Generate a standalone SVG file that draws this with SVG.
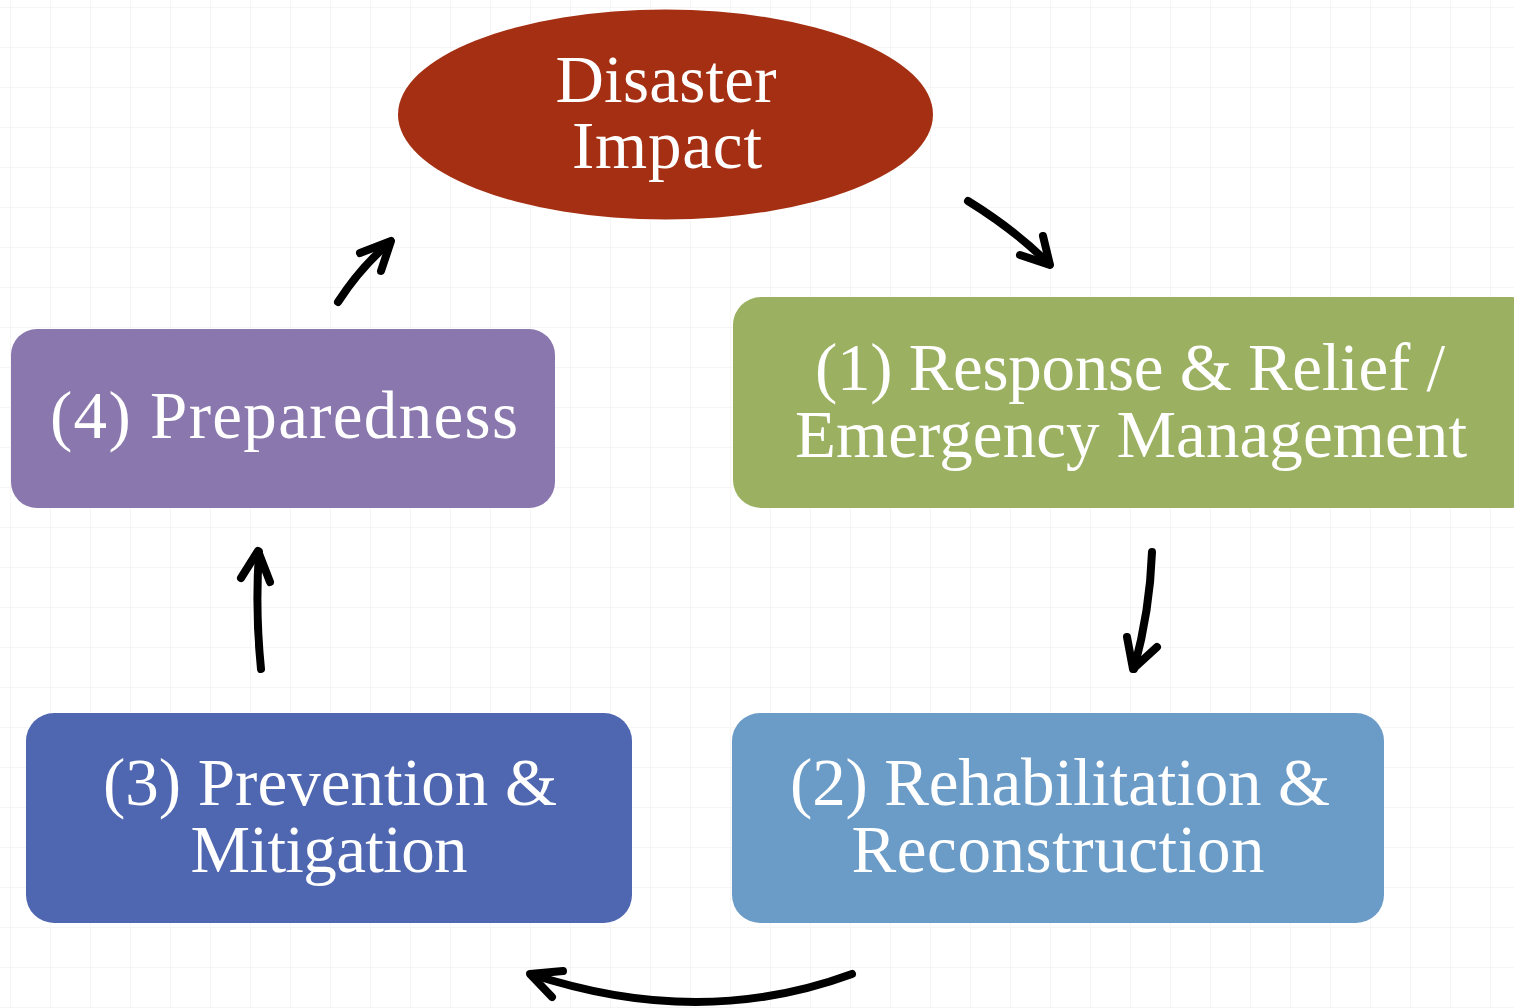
<svg xmlns="http://www.w3.org/2000/svg" width="1514" height="1008" viewBox="0 0 1514 1008">
<style>
.lbl{font-family:"Liberation Serif","DejaVu Serif",serif;font-size:67px;fill:#ffffff;text-anchor:middle}
.arr{fill:none;stroke:#000;stroke-width:8;stroke-linecap:round;stroke-linejoin:round}
</style>
<defs>
<pattern id="grid" x="10" y="7" width="40" height="40" patternUnits="userSpaceOnUse">
<path d="M0,0 H40 M0,0 V40" fill="none" stroke="#f5f5f5" stroke-width="2"/>
</pattern>
</defs>
<rect width="1514" height="1008" fill="#ffffff"/>
<rect width="1514" height="1008" fill="url(#grid)"/>

<g id="disaster-impact">
<ellipse cx="665.5" cy="114.5" rx="267.5" ry="105" fill="#A52F12"/>
<text class="lbl" x="666" y="102" textLength="221">Disaster</text>
<text class="lbl" x="667" y="168" textLength="190">Impact</text>
</g>

<g id="response">
<rect x="733" y="297" width="806" height="211" rx="28" fill="#9BB061"/>
<text class="lbl" x="1130" y="390" textLength="630">(1) Response &amp; Relief /</text>
<text class="lbl" x="1131" y="457" textLength="672">Emergency Management</text>
</g>

<g id="rehabilitation">
<rect x="732" y="713" width="652" height="210" rx="28" fill="#6B9CC8"/>
<text class="lbl" x="1060" y="805" textLength="540">(2) Rehabilitation &amp;</text>
<text class="lbl" x="1058" y="872" textLength="413">Reconstruction</text>
</g>

<g id="prevention">
<rect x="26" y="713" width="606" height="210" rx="28" fill="#4F66B0"/>
<text class="lbl" x="330" y="805" textLength="454">(3) Prevention &amp;</text>
<text class="lbl" x="329" y="872" textLength="277">Mitigation</text>
</g>

<g id="preparedness">
<rect x="11" y="329" width="544" height="179" rx="26" fill="#8977AD"/>
<text class="lbl" x="284" y="438" textLength="468">(4) Preparedness</text>
</g>

<g id="connectors">
<path class="arr" d="M968,201 Q1015,230 1049,264"/>
<path class="arr" d="M1020,255 L1050,265 L1043,236"/>
<path class="arr" d="M1152,552 Q1150,610 1134,669"/>
<path class="arr" d="M1127,637 L1133,669 L1157,647"/>
<path class="arr" d="M852,974 Q700,1030 531,974"/>
<path class="arr" d="M563,971 L530,974 L552,997"/>
<path class="arr" d="M261,669 Q255,610 259,552"/>
<path class="arr" d="M241,578 L258,551 L270,582"/>
<path class="arr" d="M338,302 Q360,268 389,243"/>
<path class="arr" d="M360,253 L391,241 L381,271"/>
</g>
</svg>
